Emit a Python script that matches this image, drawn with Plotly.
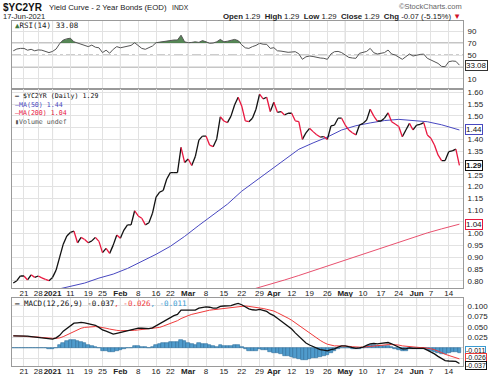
import plotly.graph_objects as go
import pandas as pd

# ---------------- data ----------------
HOLIDAYS = ["2020-12-25", "2021-01-01", "2021-01-18", "2021-02-15", "2021-04-02", "2021-05-31"]
days = [d.strftime("%Y-%m-%d") for d in pd.bdate_range("2020-12-16", "2021-06-17")
        if d.strftime("%Y-%m-%d") not in HOLIDAYS]

close = [0.79, 0.80, 0.82, 0.82, 0.803, 0.825, 0.814, 0.82, 0.812, 0.806,
         0.80, 0.814, 0.845, 0.90, 0.955, 0.99, 1.005, 1.01, 0.961, 0.984,
         0.975, 0.961, 0.969, 0.984, 0.967, 0.919, 0.937, 0.916, 0.951, 0.994,
         0.98, 1.015, 1.037, 1.037, 1.097, 1.075, 1.065, 1.037, 1.046, 1.086,
         1.155, 1.176, 1.183, 1.232, 1.259, 1.259, 1.259, 1.366, 1.302, 1.317,
         1.289, 1.327, 1.397, 1.414, 1.414, 1.376, 1.369, 1.402, 1.496, 1.478,
         1.471, 1.499, 1.546, 1.579, 1.542, 1.479, 1.475, 1.49, 1.528, 1.592,
         1.572, 1.579, 1.518, 1.558, 1.515, 1.518, 1.504, 1.511, 1.511, 1.479,
         1.475, 1.40, 1.428, 1.447, 1.433, 1.42, 1.41, 1.412, 1.40, 1.457,
         1.461, 1.49, 1.49, 1.461, 1.44, 1.428, 1.419, 1.461, 1.468, 1.482,
         1.528, 1.499, 1.478, 1.478, 1.49, 1.513, 1.475, 1.465, 1.455, 1.411,
         1.44, 1.468, 1.44, 1.461, 1.464, 1.471, 1.419, 1.405, 1.376, 1.334,
         1.31, 1.31, 1.348, 1.351, 1.359, 1.29]

ma50_days = ["2021-01-05", "2021-01-11", "2021-01-15", "2021-01-22", "2021-01-28", "2021-02-03",
             "2021-02-09", "2021-02-16", "2021-02-22", "2021-02-26", "2021-03-04", "2021-03-10",
             "2021-03-16", "2021-03-22", "2021-03-26", "2021-04-01", "2021-04-08", "2021-04-14",
             "2021-04-20", "2021-04-26", "2021-04-30", "2021-05-06", "2021-05-12", "2021-05-18",
             "2021-05-24", "2021-05-28", "2021-06-04", "2021-06-10", "2021-06-16", "2021-06-17"]
ma50 = [0.762, 0.776, 0.790, 0.811, 0.828, 0.852, 0.882, 0.912, 0.946, 0.988, 1.035, 1.080,
        1.125, 1.180, 1.225, 1.270, 1.315, 1.358, 1.385, 1.410, 1.440, 1.458, 1.470, 1.480,
        1.485, 1.480, 1.475, 1.462, 1.443, 1.44]

ma200_days = ["2021-03-22", "2021-03-26", "2021-04-01", "2021-04-08", "2021-04-14", "2021-04-20",
              "2021-04-26", "2021-04-30", "2021-05-06", "2021-05-12", "2021-05-18", "2021-05-24",
              "2021-05-28", "2021-06-04", "2021-06-10", "2021-06-17"]
ma200 = [0.750, 0.767, 0.785, 0.803, 0.822, 0.842, 0.863, 0.884, 0.905, 0.925, 0.944, 0.963,
         0.984, 1.003, 1.020, 1.04]

rsi = [57, 60, 61, 61, 58, 59.5, 57, 58.5, 58, 55.5,
       54, 56, 60, 69, 75, 77, 78, 72, 70, 69,
       67, 64, 66.5, 63, 62, 54, 58, 53, 59.5, 64,
       62, 63, 65, 66, 70.5, 66.5, 61, 59.5, 62, 65,
       70.5, 71.5, 72, 73.5, 74, 75, 75, 83, 72, 70.5,
       71, 72, 71, 74, 72, 69.5, 70, 72, 76, 72,
       73, 74, 76, 74, 67, 62, 61, 64, 66, 69.5,
       68, 67.8, 61, 62.2, 57, 56.5, 55.5, 54.5, 55, 55.5,
       52, 42.8, 47, 48.3, 47.5, 46, 45, 44.5, 42.8, 51.7,
       55.5, 56, 54, 50, 46, 45, 44.5, 52.8, 54.5, 56,
       61, 53.8, 51.7, 52.5, 54, 58.3, 51.7, 50, 47, 42.8,
       47.2, 51.7, 48.3, 50, 51, 51.5, 44.5, 41.7, 38.5, 36,
       31, 30.5, 38.8, 40, 39.5, 33.08]

macd = [0.029, 0.029, 0.029, 0.029, 0.028, 0.027, 0.026, 0.025, 0.024, 0.023,
        0.022, 0.021, 0.024, 0.030, 0.040, 0.047, 0.054, 0.059, 0.060, 0.061,
        0.060, 0.058, 0.056, 0.054, 0.049, 0.043, 0.040, 0.036, 0.033, 0.035,
        0.037, 0.039, 0.041, 0.043, 0.046, 0.047, 0.047, 0.046, 0.046, 0.048,
        0.053, 0.058, 0.063, 0.068, 0.073, 0.077, 0.080, 0.090, 0.090, 0.090,
        0.089, 0.090, 0.095, 0.097, 0.098, 0.097, 0.095, 0.095, 0.099, 0.100,
        0.100, 0.101, 0.104, 0.106, 0.103, 0.098, 0.093, 0.091, 0.090, 0.092,
        0.090, 0.087, 0.081, 0.077, 0.071, 0.065, 0.058, 0.051, 0.045, 0.036,
        0.028, 0.018, 0.012, 0.007, 0.003, 0.000, -0.004, -0.005, -0.007, -0.004,
        -0.002, 0.002, 0.005, 0.005, 0.003, 0.001, -0.001, 0.000, 0.002, 0.006,
        0.010, 0.011, 0.010, 0.011, 0.012, 0.013, 0.010, 0.006, 0.003, -0.002,
        -0.002, 0.000, -0.001, -0.001, -0.001, -0.001, -0.005, -0.009, -0.014, -0.020,
        -0.026, -0.030, -0.031, -0.031, -0.032, -0.037]

signal = [0.029, 0.029, 0.028, 0.028, 0.027, 0.027, 0.026, 0.026, 0.025, 0.024,
          0.024, 0.023, 0.023, 0.024, 0.027, 0.031, 0.036, 0.040, 0.044, 0.047,
          0.049, 0.050, 0.051, 0.051, 0.050, 0.049, 0.047, 0.045, 0.043, 0.042,
          0.041, 0.041, 0.041, 0.042, 0.042, 0.043, 0.044, 0.044, 0.045, 0.046,
          0.047, 0.049, 0.052, 0.055, 0.058, 0.062, 0.065, 0.070, 0.074, 0.077,
          0.080, 0.082, 0.084, 0.087, 0.089, 0.090, 0.091, 0.092, 0.093, 0.095,
          0.096, 0.097, 0.098, 0.099, 0.100, 0.100, 0.099, 0.098, 0.096, 0.095,
          0.094, 0.092, 0.090, 0.088, 0.084, 0.080, 0.076, 0.071, 0.066, 0.060,
          0.054, 0.047, 0.040, 0.034, 0.028, 0.023, 0.018, 0.013, 0.009, 0.007,
          0.005, 0.005, 0.005, 0.005, 0.004, 0.003, 0.002, 0.002, 0.002, 0.003,
          0.004, 0.005, 0.006, 0.007, 0.008, 0.008, 0.008, 0.008, 0.007, 0.005,
          0.004, 0.003, 0.002, 0.002, 0.001, 0.001, 0.000, -0.002, -0.004, -0.007,
          -0.011, -0.015, -0.018, -0.021, -0.023, -0.026]

hist = [0.000, 0.000, 0.001, 0.001, 0.001, 0.000, 0.000, -0.001, -0.001, -0.001,
        -0.002, -0.002, 0.001, 0.006, 0.013, 0.016, 0.018, 0.019, 0.016, 0.014,
        0.011, 0.008, 0.005, 0.003, -0.001, -0.006, -0.007, -0.009, -0.010, -0.007,
        -0.004, -0.002, 0.000, 0.001, 0.004, 0.004, 0.003, 0.002, 0.001, 0.002,
        0.006, 0.009, 0.011, 0.013, 0.015, 0.015, 0.015, 0.020, 0.016, 0.013,
        0.009, 0.008, 0.011, 0.010, 0.009, 0.007, 0.004, 0.003, 0.006, 0.005,
        0.004, 0.004, 0.006, 0.007, 0.003, -0.002, -0.006, -0.007, -0.006, -0.003,
        -0.004, -0.005, -0.009, -0.011, -0.013, -0.015, -0.018, -0.020, -0.021, -0.024,
        -0.026, -0.029, -0.028, -0.027, -0.025, -0.023, -0.022, -0.018, -0.016, -0.011,
        -0.007, -0.003, 0.000, 0.000, -0.001, -0.002, -0.003, -0.002, 0.000, 0.003,
        0.006, 0.006, 0.004, 0.004, 0.004, 0.005, 0.002, -0.002, -0.004, -0.007,
        -0.006, -0.003, -0.003, -0.003, -0.002, -0.002, -0.005, -0.007, -0.010, -0.013,
        -0.015, -0.015, -0.013, -0.010, -0.009, -0.011]

tick_days = ["2020-12-21", "2020-12-28", "2021-01-04", "2021-01-11", "2021-01-19", "2021-01-25",
             "2021-02-01", "2021-02-08", "2021-02-16", "2021-02-22", "2021-03-01", "2021-03-08",
             "2021-03-15", "2021-03-22", "2021-03-29", "2021-04-05", "2021-04-12", "2021-04-19",
             "2021-04-26", "2021-05-03", "2021-05-10", "2021-05-17", "2021-05-24", "2021-06-01",
             "2021-06-07", "2021-06-14"]
tick_text = ["21", "28", "<b>2021</b>", "11", "19", "25", "<b>Feb</b>", "8", "16", "22",
             "<b>Mar</b>", "8", "15", "22", "29", "<b>Apr</b>", "12", "19", "26", "<b>May</b>",
             "10", "17", "24", "<b>Jun</b>", "7", "14"]
month_days = ["2021-01-04", "2021-02-01", "2021-03-01", "2021-04-05", "2021-05-03", "2021-06-01"]

price_ticks = [0.80, 0.85, 0.90, 0.95, 1.00, 1.05, 1.10, 1.15, 1.20, 1.25, 1.30, 1.35,
               1.40, 1.45, 1.50, 1.55, 1.60]
price_labels = ["0.80", "0.85", "0.90", "0.95", "1.00", "", "1.10", "1.15", "1.20", "1.25", "",
                "1.35", "1.40", "", "1.50", "1.55", "1.60"]
rsi_ticks = [10, 30, 50, 70, 90]
rsi_labels = ["10", "", "50", "70", "90"]
macd_ticks = [-0.025, 0.0, 0.025, 0.05, 0.075, 0.1]
macd_labels = ["", "", "0.025", "0.050", "0.075", "0.100"]

# ---------------- styling ----------------
W, H = 500, 379
L, R, T, B = 12, 37, 21, 13


def px(X):
    return (X - L) / (W - L - R)


def py(Y):
    return (H - B - Y) / (H - T - B)


BLACK = "#111111"
DOWN = "#e8173f"
BLUE = "#4848c0"
MA200C = "#e8506e"
SIG = "#f03a3a"
HISTC = "#4f9bcc"
GRID = "#e2e2e2"
MONO = "DejaVu Sans Mono, monospace"
SANS = "Liberation Sans, Arial, sans-serif"

fig = go.Figure()

# RSI panel
fig.add_trace(go.Scatter(x=days, y=[70] * len(days), mode="lines", line=dict(width=0),
                         xaxis="x", yaxis="y", hoverinfo="skip"))
fig.add_trace(go.Scatter(x=days, y=[max(v, 70) for v in rsi], mode="lines", line=dict(width=0),
                         fill="tonexty", fillcolor="rgba(72,125,72,0.92)",
                         xaxis="x", yaxis="y", hoverinfo="skip"))
fig.add_trace(go.Scatter(x=days, y=rsi, mode="lines", line=dict(color="#555555", width=1),
                         xaxis="x", yaxis="y"))

# Price panel
fig.add_trace(go.Scatter(x=ma200_days, y=ma200, mode="lines", line=dict(color=MA200C, width=1),
                         xaxis="x2", yaxis="y2"))
fig.add_trace(go.Scatter(x=ma50_days, y=ma50, mode="lines", line=dict(color=BLUE, width=1),
                         xaxis="x2", yaxis="y2"))
ux, uy, dx, dy = [], [], [], []
for i in range(1, len(close)):
    if close[i] < close[i - 1]:
        dx += [days[i - 1], days[i], None]
        dy += [close[i - 1], close[i], None]
    else:
        ux += [days[i - 1], days[i], None]
        uy += [close[i - 1], close[i], None]
fig.add_trace(go.Scatter(x=ux, y=uy, mode="lines", line=dict(color=BLACK, width=1.3),
                         connectgaps=False, xaxis="x2", yaxis="y2"))
fig.add_trace(go.Scatter(x=dx, y=dy, mode="lines", line=dict(color=DOWN, width=1.3),
                         connectgaps=False, xaxis="x2", yaxis="y2"))

# MACD panel
fig.add_trace(go.Bar(x=days, y=hist, marker=dict(color=HISTC, line=dict(color="#2d6e9c", width=0.6)),
                     xaxis="x3", yaxis="y3"))
fig.add_trace(go.Scatter(x=days, y=signal, mode="lines", line=dict(color=SIG, width=1),
                         xaxis="x3", yaxis="y3"))
fig.add_trace(go.Scatter(x=days, y=macd, mode="lines", line=dict(color=BLACK, width=1.3),
                         xaxis="x3", yaxis="y3"))

xcommon = dict(type="category", categoryorder="array", categoryarray=days,
               range=[-0.36, 126.0], tickmode="array", tickvals=tick_days, ticktext=tick_text,
               showgrid=True, gridcolor=GRID, gridwidth=1, showline=True, linecolor="#9a9a9a",
               linewidth=1, mirror=True, ticks="", ticklen=0, zeroline=False, automargin=False,
               tickangle=0, ticklabelstandoff=-3,
               tickfont=dict(family=SANS, size=8, color="#222"))
ycommon = dict(side="right", showgrid=True, gridcolor=GRID, gridwidth=1, showline=True,
               linecolor="#9a9a9a", linewidth=1, mirror=True, ticks="", ticklen=0, zeroline=False,
               automargin=False, ticklabelstandoff=2,
               tickfont=dict(family=SANS, size=8, color="#222"), tickmode="array")

fig.update_layout(
    width=W, height=H, margin=dict(l=L, r=R, t=T, b=B),
    paper_bgcolor="white", plot_bgcolor="white", showlegend=False, bargap=0,
    font=dict(family=SANS, size=8, color="#222"),
    xaxis=dict(xcommon, anchor="y", domain=[0, 1], showticklabels=False),
    xaxis2=dict(xcommon, anchor="y2", domain=[0, 1], matches="x"),
    xaxis3=dict(xcommon, anchor="y3", domain=[0, 1], matches="x"),
    yaxis=dict(ycommon, anchor="x", domain=[py(89.3), 1.0], range=[-7.2, 106.7],
               tickvals=rsi_ticks, ticktext=rsi_labels),
    yaxis2=dict(ycommon, anchor="x2", domain=[py(288.3), py(89.3)], range=[0.7677, 1.6127],
                tickvals=price_ticks, ticktext=price_labels),
    yaxis3=dict(ycommon, anchor="x3", domain=[0, py(298)], range=[-0.0429, 0.119],
                tickvals=macd_ticks, ticktext=macd_labels),
)

shapes = []
# RSI reference lines
for lvl, dash, col in [(70, "solid", "#8a8a8a"), (30, "solid", "#8a8a8a"), (50, "dashdot", "#9a9a9a")]:
    shapes.append(dict(type="line", xref="x domain", x0=0, x1=1, yref="y", y0=lvl, y1=lvl,
                       line=dict(color=col, width=1, dash=dash), layer="below"))
# month separators
for xa, ya in [("x", "y"), ("x2", "y2"), ("x3", "y3")]:
    for d in month_days:
        shapes.append(dict(type="line", xref=xa, x0=d, x1=d, yref=ya + " domain", y0=0, y1=1,
                           line=dict(color="#c4c4c4", width=1), layer="below"))
fig.update_layout(shapes=shapes)

ann = []


def text(X, Y, s, size=8, color="#222", family=SANS, anchor="left", yanchor="middle"):
    ann.append(dict(xref="paper", yref="paper", x=px(X), y=py(Y), text=s, showarrow=False,
                    xanchor=anchor, yanchor=yanchor, align="left",
                    font=dict(size=size, color=color, family=family)))


# header
text(1, 7, "<b>$YC2YR</b>", size=10, color="#111")
text(47, 7.5, "Yield Curve - 2 Year Bonds (EOD)", size=7.8, color="#222")
text(170, 7.5, "INDX", size=6.8, color="#222")
text(1, 17, "17-Jun-2021", size=7.5, color="#222")
text(463, 17, "<b>Open</b> 1.29  <b>High</b> 1.29  <b>Low</b> 1.29  <b>Close</b> 1.29  "
              "<b>Chg</b> -0.07 (-5.15%) <span style='color:#d0102a'>▼</span>",
     size=7.8, color="#222", anchor="right")
text(464, 6, "©StockCharts.com", size=7.5, color="#666", anchor="right")

# panel legends
text(13, 25.5, "<span style='color:#3f7a3f'>▲</span>RSI(14) 33.08", size=7.5, family=MONO)
text(13, 89.5,
     "<span style='color:#111'><b>—</b> $YC2YR (Daily) 1.29</span><br>"
     "<span style='color:%s'>—MA(50) 1.44</span><br>"
     "<span style='color:%s'>—MA(200) 1.04</span><br>"
     "<span style='color:#555'>▮Volume undef</span>" % (BLUE, DOWN),
     size=6.6, family=MONO, yanchor="top")
text(13, 303.5, "<b>—</b> MACD(12,26,9) -0.037<span style='color:%s'>, -0.026</span>"
                "<span style='color:#3a9ad0'>, -0.011</span>" % SIG, size=7.5, family=MONO, color="#111")


def tag(yref, val, s, col, bold=False, yshift=0, size=8):
    ann.append(dict(xref="paper", yref=yref, x=1.0, y=val, text=("<b>%s</b>" % s) if bold else s,
                    showarrow=False, xanchor="left", yanchor="middle", xshift=2, yshift=yshift,
                    bgcolor="white", bordercolor=col, borderwidth=1, borderpad=0,
                    font=dict(size=size, color="#111", family=SANS)))


tag("y", 33.08, "33.08", "#333")
tag("y2", 1.44, "1.44", BLUE)
tag("y2", 1.29, "1.29", "#111", bold=True)
tag("y2", 1.04, "1.04", DOWN)
tag("y3", -0.011, "-0.011", "#3a9ad0", yshift=2, size=7)
tag("y3", -0.026, "-0.026", SIG, yshift=1.5, size=7)
tag("y3", -0.037, "-0.037", "#111", yshift=-1.5, size=7)

fig.update_layout(annotations=ann)
fig.write_html("out.html", config={"displayModeBar": False},
               post_script="document.body.style.margin='0px';")
